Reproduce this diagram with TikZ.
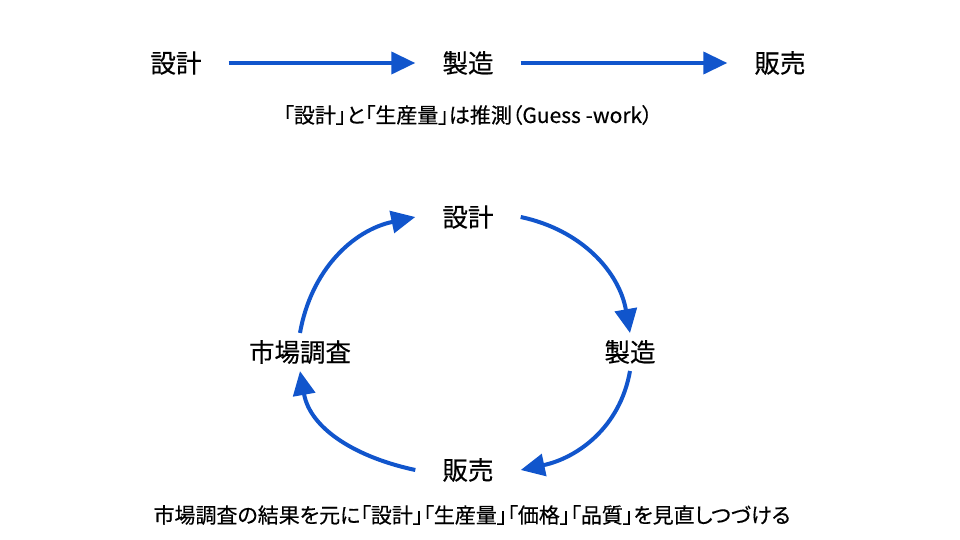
\documentclass[tikz,border=0pt]{standalone}
\usepackage{fontspec}
\setmainfont{Noto Sans CJK JP}[FakeBold=0.4]
\newfontfamily\notefont{Noto Sans CJK JP}[RawFeature=+palt, FakeBold=0.4]
\usetikzlibrary{arrows.meta, positioning}
\definecolor{flowblue}{HTML}{1155CC}

\begin{document}
\begin{tikzpicture}[
  x=1pt, y=-1pt,
  stage/.style={font=\fontsize{25.5}{30}\selectfont, inner xsep=27pt, inner ysep=7pt},
  note/.style={font=\notefont\fontsize{21}{25}\selectfont},
  arr/.style={-{Triangle[length=24pt, width=22pt]}, line width=4pt, flowblue}
]
  \useasboundingbox (0,0) rectangle (960,540);

  % Linear flow
  \node[stage] (design) at (176,63) {設計};
  \node[stage] (mfg) at (468,63) {製造};
  \node[stage] (sales) at (780,63) {販売};

  \draw[arr] (design) -- (mfg);
  \draw[arr] (mfg) -- (sales);

  \node[note] (guess) at (468,115) {「設計」と「生産量」は推測（Guess -work）};

  % Cycle
  \node[stage] (cdesign) at (468,217) {設計};
  \node[stage] (cmfg) at (630,352) {製造};
  \node[stage] (csales) at (468,470) {販売};
  \node[stage] (survey) at (300,352) {市場調査};

  \draw[arr] (cdesign.east) to[out=-12, in=100] (cmfg.north);
  \draw[arr] (cmfg.south) to[out=-100, in=12] (csales.east);
  \draw[arr] (csales.west) to[out=168, in=-80] (survey.south);
  \draw[arr] (survey.north) to[out=80, in=-168] (cdesign.west);

  \node[note] (review) at (472,515) {市場調査の結果を元に「設計」「生産量」「価格」「品質」を見直しつづける};
\end{tikzpicture}
\end{document}
